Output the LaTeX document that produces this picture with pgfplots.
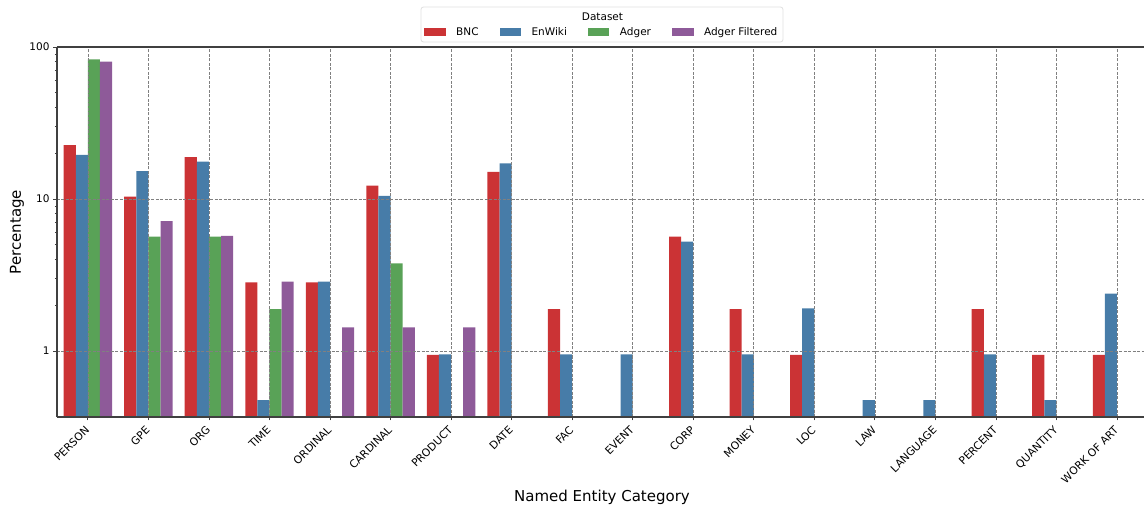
\documentclass[border=0pt]{standalone}
\usepackage{pgfplots}
\pgfplotsset{compat=1.18}
\usepackage{fontspec}
\setmainfont{DejaVu Sans}

\definecolor{cBNC}{HTML}{CB3335}
\definecolor{cWiki}{HTML}{477CA8}
\definecolor{cAdger}{HTML}{59A257}
\definecolor{cAdgerF}{HTML}{8E5A99}
\definecolor{spine}{gray}{0.25}

\pgfplotsset{
  swatch/.style={legend image code/.code={\fill[##1] (0pt,-3.8pt) rectangle (21.5pt,3.8pt);}},
}

\begin{document}
\begin{tikzpicture}
\useasboundingbox (-57pt,-89pt) rectangle (1087pt,417pt);
\begin{axis}[
  scale only axis,
  width=1087pt, height=370pt,
  ymode=log, log origin=infty,
  log ticks with fixed point,
  xmin=-0.51, xmax=17.446,
  ymin=0.368, ymax=100,
  ytick={1,10,100},
  xtick={0,...,17},
  xticklabels={PERSON,GPE,ORG,TIME,ORDINAL,CARDINAL,PRODUCT,DATE,FAC,EVENT,CORP,MONEY,LOC,LAW,LANGUAGE,PERCENT,QUANTITY,WORK OF ART},
  axis x line*=box, axis y line*=left,
  xtick pos=bottom, ytick pos=left,
  tick align=outside,
  major tick length=3.5pt, minor tick length=2pt,
  every tick/.style={spine, line width=0.8pt},
  axis line style={spine, line width=1.1pt},
  grid=major,
  major grid style={dash pattern=on 3pt off 1.5pt, gray, line width=0.6pt},
  axis on top,
  ybar, bar width=0.2,
  /pgf/number format/assume math mode=true,
  tick label style={font=\fontsize{10.5}{12}\selectfont, text=black},
  yticklabel style={xshift=-0.5pt},
  xticklabel style={font=\fontsize{10.7}{12}\selectfont, xshift=-3.5pt, yshift=-3pt, rotate=45, anchor=north east, inner sep=1pt},
  every axis y label/.style={at={(axis description cs:-0.0368,0.5)}, rotate=90, anchor=center},
  every axis x label/.style={at={(axis description cs:0.5014,-0.216)}, anchor=center},
  label style={font=\fontsize{15}{18}\selectfont, text=black},
  ylabel={Percentage},
  xlabel={Named Entity Category},
  legend columns=4,
  legend style={draw=none, fill=none, at={(axis description cs:0.5012,1.0405)}, anchor=center,
    font=\fontsize{10.5}{12}\selectfont, inner sep=0pt,
    /tikz/every even column/.append style={column sep=19pt},
    /tikz/every odd column/.append style={column sep=8.5pt}},
]
% BNC
\addplot[fill=cBNC, draw=none, bar shift=-0.3, swatch] coordinates {
  (0,22.64) (1,10.38) (2,18.87) (3,2.830) (4,2.830) (5,12.26) (6,0.943) (7,15.09)
  (8,1.887) (10,5.660) (11,1.887) (12,0.943) (15,1.887) (16,0.943) (17,0.943)};
\addlegendentry{BNC}
% EnWiki
\addplot[fill=cWiki, draw=none, bar shift=-0.1, swatch] coordinates {
  (0,19.52) (1,15.24) (2,17.62) (3,0.476) (4,2.857) (5,10.48) (6,0.952) (7,17.14)
  (8,0.952) (9,0.952) (10,5.238) (11,0.952) (12,1.905) (13,0.476) (14,0.476)
  (15,0.952) (16,0.476) (17,2.381)};
\addlegendentry{EnWiki}
% Adger
\addplot[fill=cAdger, draw=none, bar shift=0.1, swatch] coordinates {
  (0,83.02) (1,5.660) (2,5.660) (3,1.887) (5,3.774)};
\addlegendentry{Adger}
% Adger Filtered
\addplot[fill=cAdgerF, draw=none, bar shift=0.3, swatch] coordinates {
  (0,80.00) (1,7.143) (2,5.714) (3,2.857) (4,1.429) (5,1.429) (6,1.429)};
\addlegendentry{Adger Filtered}
\end{axis}
% legend frame and title
\draw[gray!25, line width=0.8pt, rounded corners=2.5pt] (364pt,375pt) rectangle (726pt,410pt);
\node[font=\fontsize{10.5}{12}\selectfont, anchor=center] at (545.5pt,400pt) {Dataset};
\end{tikzpicture}
\end{document}
